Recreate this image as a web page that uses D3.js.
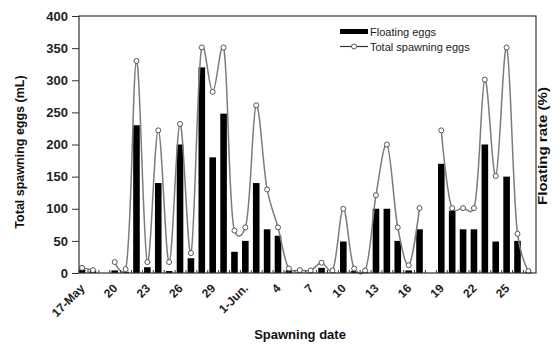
<!DOCTYPE html>
<html>
<head>
<meta charset="utf-8">
<script src="https://cdn.jsdelivr.net/npm/d3@7"></script>
<style>
  html, body { margin: 0; padding: 0; background: #fff; }
  svg { display: block; }
  text { font-family: "Liberation Sans", Arial, sans-serif; }
</style>
</head>
<body>
<svg id="chart" width="558" height="353"></svg>
<script>
// Daily spawning record, 17 May – 27 June (one entry per day; null = no record)
const dayLabels = ["17-May", "20", "23", "26", "29", "1-Jun.", "4", "7", "10", "13", "16", "19", "22", "25"];
const labelEvery = 3;

// Total spawning eggs (mL)
const totalEggs = [8, 4.5, null, 17, 6, 330, 17, 222, 17, 232, 31, 351, 282, 351, 66, 71, 261, 130, 71, 7,
                   4.5, 4, 16, 4, 100, 7, 4, 121, 200, 71, 12, 101, null, 222, 101, 101, 101, 301, 151, 351, 61, 3];
// Floating eggs (mL)
const floatingEggs = [5, 3, null, 4, 2, 230, 9, 140, 3, 200, 23, 320, 180, 248, 33, 50, 140, 68, 58, 4,
                      1, 1, 8, 1, 49, 3, 2, 100, 100, 50, 4, 68, null, 170, 97, 68, 68, 200, 49, 150, 50, 2];

const yTicks = [0, 50, 100, 150, 200, 250, 300, 350, 400];

const svg = d3.select("#chart");
const plot = { left: 79, right: 536, top: 16, bottom: 273 };

const days = d3.range(totalEggs.length);
const x = d3.scaleLinear().domain([-0.28, days.length - 0.3]).range([plot.left, plot.right]);
const y = d3.scaleLinear().domain([0, 400]).range([plot.bottom, plot.top]);

const axisColor = "#333";

// Bars: floating eggs
const barW = 6.6;
svg.append("g").selectAll("rect")
  .data(days.filter(i => floatingEggs[i] != null))
  .join("rect")
  .attr("x", i => x(i) - barW / 2)
  .attr("y", i => y(floatingEggs[i]))
  .attr("width", barW)
  .attr("height", i => y(0) - y(floatingEggs[i]))
  .attr("fill", "#000");

// Smoothed line: total spawning eggs
const line = d3.line()
  .defined(i => totalEggs[i] != null)
  .x(i => x(i))
  .y(i => y(totalEggs[i]))
  .curve(d3.curveCatmullRom.alpha(0.25));

svg.append("path")
  .datum(days)
  .attr("d", line)
  .attr("fill", "none")
  .attr("stroke", "#7c7c7c")
  .attr("stroke-width", 1.5);

svg.append("g").selectAll("circle")
  .data(days.filter(i => totalEggs[i] != null))
  .join("circle")
  .attr("cx", i => x(i))
  .attr("cy", i => y(totalEggs[i]))
  .attr("r", 2.5)
  .attr("fill", "#fff")
  .attr("stroke", "#555")
  .attr("stroke-width", 1);

// Frame
svg.append("rect")
  .attr("x", plot.left).attr("y", plot.top)
  .attr("width", plot.right - plot.left).attr("height", plot.bottom - plot.top)
  .attr("fill", "none").attr("stroke", axisColor).attr("stroke-width", 1.2);

// Left axis
const yAxis = svg.append("g")
  .attr("transform", `translate(${plot.left},0)`)
  .call(d3.axisLeft(y).tickValues(yTicks).tickSize(7).tickPadding(4));
yAxis.select(".domain").remove();
yAxis.selectAll("line").attr("stroke", axisColor);
yAxis.selectAll("text")
  .attr("font-family", "'Liberation Sans', Arial, sans-serif")
  .attr("font-size", 13).attr("font-weight", "bold").attr("fill", "#222");

// Bottom axis: small inside ticks between days
const xMinor = svg.append("g")
  .attr("transform", `translate(0,${plot.bottom})`)
  .call(d3.axisBottom(x).tickValues(days.slice(0, -1).map(i => i + 0.5)).tickSize(-3).tickFormat(""));
xMinor.select(".domain").remove();
xMinor.selectAll("line").attr("stroke", axisColor);

// Bottom axis: date labels every third day
const labelDays = dayLabels.map((_, k) => k * labelEvery);
const xAxis = svg.append("g")
  .attr("transform", `translate(0,${plot.bottom})`)
  .call(d3.axisBottom(x).tickValues(labelDays).tickSize(0).tickFormat((d, k) => dayLabels[k]));
xAxis.select(".domain").remove();
xAxis.selectAll("text")
  .attr("font-family", "'Liberation Sans', Arial, sans-serif")
  .attr("font-size", 12).attr("font-weight", "bold").attr("fill", "#222")
  .attr("text-anchor", "end")
  .attr("y", 0).attr("dy", 0)
  .attr("transform", "translate(3,16) rotate(-45)");

// Axis titles
svg.append("text")
  .attr("transform", "translate(24,152) rotate(-90)")
  .attr("text-anchor", "middle")
  .attr("font-size", 12.5).attr("font-weight", "bold").attr("fill", "#111")
  .text("Total spawning eggs (mL)");

svg.append("text")
  .attr("transform", "translate(547,146) rotate(-90)")
  .attr("text-anchor", "middle")
  .attr("font-size", 12.5).attr("font-weight", "bold").attr("fill", "#111")
  .attr("textLength", 118).attr("lengthAdjust", "spacingAndGlyphs")
  .text("Floating rate (%)");

svg.append("text")
  .attr("x", 300).attr("y", 339)
  .attr("text-anchor", "middle")
  .attr("font-size", 13).attr("font-weight", "bold").attr("fill", "#111")
  .text("Spawning date");

// Legend
const legend = svg.append("g").attr("transform", "translate(340,0)");
legend.append("rect").attr("x", 0).attr("y", 29).attr("width", 28).attr("height", 5).attr("fill", "#000");
legend.append("text").attr("x", 30).attr("y", 36).attr("font-size", 11).attr("fill", "#222").text("Floating eggs");
legend.append("line").attr("x1", 0).attr("x2", 28).attr("y1", 46.5).attr("y2", 46.5)
  .attr("stroke", "#333").attr("stroke-width", 1.2);
legend.append("circle").attr("cx", 14).attr("cy", 46.5).attr("r", 2.5)
  .attr("fill", "#fff").attr("stroke", "#555");
legend.append("text").attr("x", 30).attr("y", 51).attr("font-size", 11).attr("fill", "#222").text("Total spawning eggs");
</script>
</body>
</html>
